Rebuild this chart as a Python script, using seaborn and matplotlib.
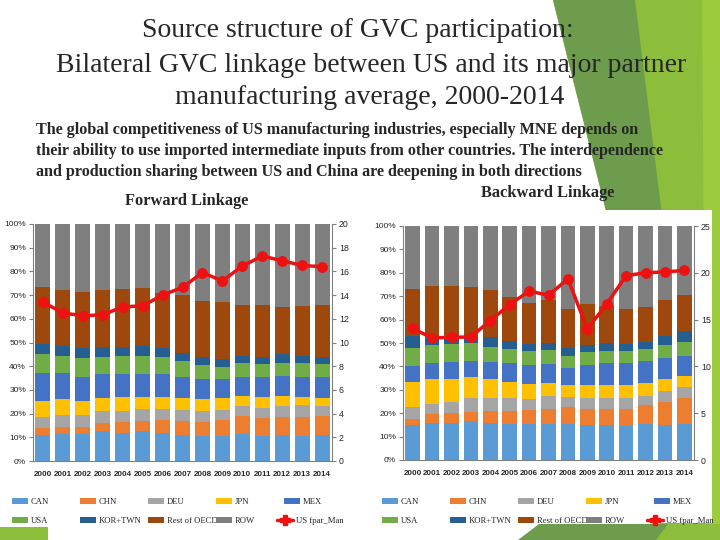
import numpy as np
import pandas as pd
import matplotlib
matplotlib.use("Agg")
import matplotlib.pyplot as plt
import seaborn as sns
from matplotlib.patches import Polygon, Rectangle, Patch
from matplotlib.lines import Line2D

years = [str(y) for y in range(2000, 2015)]
series = ["CAN", "CHN", "DEU", "JPN", "MEX", "USA", "KOR+TWN", "Rest of OECD", "ROW"]
colors = ["#5B9BD5", "#ED7D31", "#A5A5A5", "#FFC000", "#4472C4",
          "#70AD47", "#255E91", "#9E480E", "#7F7F7F"]

# forward linkage shares (%), one list per partner
fwd_can = [11, 11.5, 11.5, 12.5, 12, 12.5, 12, 11, 10.5, 10.5, 11.5, 10.5, 11, 10.5, 11]
fwd_chn = [3, 3, 3, 3.5, 4.5, 4.5, 5.5, 6, 6, 7, 7.5, 7.5, 7.5, 8, 8]
fwd_deu = [4.5, 5, 5, 5, 4.5, 5, 4.5, 4.5, 4.5, 4, 4, 4.5, 4.5, 5, 4]
fwd_jpn = [7, 6.5, 6, 5.5, 6, 5, 5, 5, 5, 5, 4.5, 4.5, 4.5, 3.5, 3.5]
fwd_mex = [11.5, 11, 10, 10, 9.5, 9.5, 9.5, 9, 8.5, 8, 8, 8.5, 8.5, 8.5, 9]
fwd_usa = [8, 7.5, 8, 7.5, 8, 8, 7.5, 6.5, 6, 5, 6, 5.5, 5.5, 6, 5.5]
fwd_kor = [4.5, 4, 4, 4, 3.5, 4, 3.5, 3.5, 3.5, 3.5, 3, 3, 3.5, 3, 3]
fwd_oecd = [24, 23.5, 24, 24, 24.5, 24.5, 23.5, 24.5, 23.5, 24, 21.5, 22, 20, 21, 22]
fwd_row = [26.5, 28, 28.5, 28, 27.5, 27, 29, 30, 32.5, 33, 34, 34, 35, 34.5, 34]
fwd_fpar = [13.4, 12.5, 12.25, 12.35, 13.0, 13.1, 14.0, 14.65, 15.9, 15.2,
            16.45, 17.3, 16.9, 16.5, 16.4]

# backward linkage shares (%)
bwd_can = [15, 16, 16, 16.5, 16, 15.5, 15.5, 15.5, 15.5, 15, 15, 14.5, 15.5, 15, 15.5]
bwd_chn = [2.5, 3.5, 4, 4, 5, 5.5, 6, 6.5, 7, 7, 7, 7.5, 8, 10, 11]
bwd_deu = [5, 4.5, 5, 6, 5.5, 5.5, 4.5, 5.5, 4.5, 4.5, 4.5, 4.5, 4, 4.5, 4.5]
bwd_jpn = [11, 10.5, 9.5, 9, 8, 7, 6.5, 5.5, 5, 5.5, 5.5, 5.5, 5.5, 5, 5]
bwd_mex = [6.5, 7, 7.5, 7, 7.5, 8, 8, 8, 7.5, 8.5, 9.5, 9.5, 9.5, 9, 8.5]
bwd_usa = [8, 7.5, 7.5, 7.5, 6.5, 6, 6, 6, 5, 5.5, 5, 5, 5, 5.5, 6]
bwd_kor = [5, 3, 2.5, 2, 4, 3.5, 3, 3, 3.5, 3, 3.5, 3, 3, 4, 4.5]
bwd_oecd = [20, 22.5, 22.5, 22, 20, 18.5, 17.5, 18.5, 16.5, 17.5, 16, 15, 15, 15.5, 15.5]
bwd_row = [27, 25.5, 25.5, 26, 27.5, 30.5, 33, 31.5, 35.5, 33.5, 34, 35.5, 34.5, 31.5, 29.5]
bwd_fpar = [14.05, 13.05, 13.1, 13.15, 14.9, 16.6, 18.05, 17.6, 19.35, 14.0,
            16.65, 19.7, 20.0, 20.1, 20.25]

fwd = pd.DataFrame(dict(zip(series, [fwd_can, fwd_chn, fwd_deu, fwd_jpn, fwd_mex,
                                     fwd_usa, fwd_kor, fwd_oecd, fwd_row])), index=years)
bwd = pd.DataFrame(dict(zip(series, [bwd_can, bwd_chn, bwd_deu, bwd_jpn, bwd_mex,
                                     bwd_usa, bwd_kor, bwd_oecd, bwd_row])), index=years)

sns.set_style("white")
plt.rcParams["font.family"] = ["Liberation Serif", "DejaVu Serif"]
SANS = "Liberation Sans"

W, H = 720, 540
fig = plt.figure(figsize=(7.2, 5.4), dpi=100)


def px(x, y):
    return (x / W, 1 - y / H)


def poly(points, color, z=0):
    fig.patches.append(Polygon([px(*p) for p in points], closed=True, facecolor=color,
                               edgecolor="none", transform=fig.transFigure, zorder=z))


# slide decoration
poly([(553, 0), (720, 0), (720, 540), (660, 540), (660, 215), (607, 215)], "#8CBE3C")
poly([(553, 0), (635, 0), (662, 215), (607, 215)], "#6C9C4C")
poly([(702, 0), (720, 0), (720, 540), (706, 540)], "#9CCB3E")
poly([(518, 540), (539, 524), (720, 524), (720, 540)], "#6C9C4C")
poly([(656, 540), (668, 524), (720, 524), (720, 540)], "#8CBE3C")
poly([(0, 527), (48, 527), (48, 540), (0, 540)], "#8CBE3C")
fig.patches.append(Rectangle(px(378, 523), 334 / W, 313 / H, facecolor="white",
                             edgecolor="none", transform=fig.transFigure, zorder=1))

for x, y, line in [(358, 31, "Source structure of GVC participation:"),
                   (371, 65, "Bilateral GVC linkage between US and its major partner"),
                   (370, 98, "manufacturing average, 2000-2014")]:
    fig.text(*px(x, y), line, ha="center", va="center", fontsize=20)
para = ["The global competitiveness of US manufacturing industries, especially MNE depends on",
        "their ability to use imported intermediate inputs from other countries. The interdependence",
        "and production sharing between US and China are deepening in both directions"]
for i, line in enumerate(para):
    fig.text(*px(36, 130 + 21 * i), line, ha="left", va="center",
             fontsize=11.6, fontweight="bold")
fig.text(*px(125, 201), "Forward Linkage", ha="left", va="center", fontsize=11.8,
         fontweight="bold")
fig.text(*px(481, 193), "Backward Linkage", ha="left", va="center", fontsize=11.8,
         fontweight="bold")


def panel(rect, df, fpar, rmax, rstep, legend_x):
    ax = fig.add_axes(rect, zorder=3)
    ax.set_facecolor("none")
    cum = df.cumsum(axis=1)
    for name, c in zip(series[::-1], colors[::-1]):
        sns.barplot(x=years, y=cum[name].values, color=c, saturation=1, width=0.75,
                    edgecolor="none", ax=ax)
    ax.set_ylim(0, 100)
    ax.set_xlim(-0.5, 14.5)
    ax.set_yticks(range(0, 101, 10))
    ax.set_yticklabels([f"{v}%" for v in range(0, 101, 10)], fontfamily=SANS, fontsize=6)
    ax.set_xticks(range(15))
    ax.set_xticklabels(years, fontfamily=SANS, fontsize=5.8, fontweight="bold")
    ax.set_xticks(np.arange(-0.5, 15, 1), minor=True)
    ax.tick_params(axis="x", which="major", length=0, pad=7)
    ax.tick_params(axis="x", which="minor", length=3, color="#808080", direction="out")
    ax.tick_params(axis="y", length=3, color="#808080", direction="out", pad=2, left=True)
    for s in ["top", "right"]:
        ax.spines[s].set_visible(False)
    for s in ["left", "bottom"]:
        ax.spines[s].set_color("#808080")
    ax.set_ylabel("")

    ax2 = ax.twinx()
    sns.lineplot(x=np.arange(15), y=fpar, color="#EE1111", linewidth=2.5, marker="o",
                 markersize=7, markeredgecolor="#EE1111", ax=ax2)
    ax2.set_ylim(0, rmax)
    ax2.set_yticks(np.arange(0, rmax + 1, rstep))
    ax2.set_yticklabels([str(v) for v in range(0, rmax + 1, rstep)], fontfamily=SANS,
                        fontsize=6.3)
    ax2.set_xlim(-0.5, 14.5)
    ax2.tick_params(axis="y", length=3, color="#808080", direction="out", pad=2, right=True)
    for s in ["top", "left", "bottom"]:
        ax2.spines[s].set_visible(False)
    ax2.spines["right"].set_color("#808080")
    ax2.set_ylabel("")

    handles = [Patch(facecolor=c, edgecolor="none") for c in colors]
    handles.append(Line2D([], [], color="#EE1111", linewidth=2.5, marker="P",
                          markersize=7))
    labels = series + ["US fpar_Man"]
    for i, (h, lab) in enumerate(zip(handles, labels)):
        col, row = i % 5, i // 5
        shift = -7 if i == 9 else 0
        fig.legend([h], [lab], loc="center left",
                   bbox_to_anchor=px(legend_x + 68 * col + shift, 502 + 19 * row),
                   frameon=False, fontsize=6.2, handlelength=1.9, handleheight=0.6,
                   handletextpad=0.25, borderaxespad=0, borderpad=0)
    return ax


panel([33 / W, 1 - 461 / H, 299 / W, 237 / H], fwd, fwd_fpar, 20, 2, 12)
panel([403 / W, 1 - 460 / H, 291 / W, 234 / H], bwd, bwd_fpar, 25, 5, 382)

fig.savefig("out.png", dpi=100, facecolor="white")
